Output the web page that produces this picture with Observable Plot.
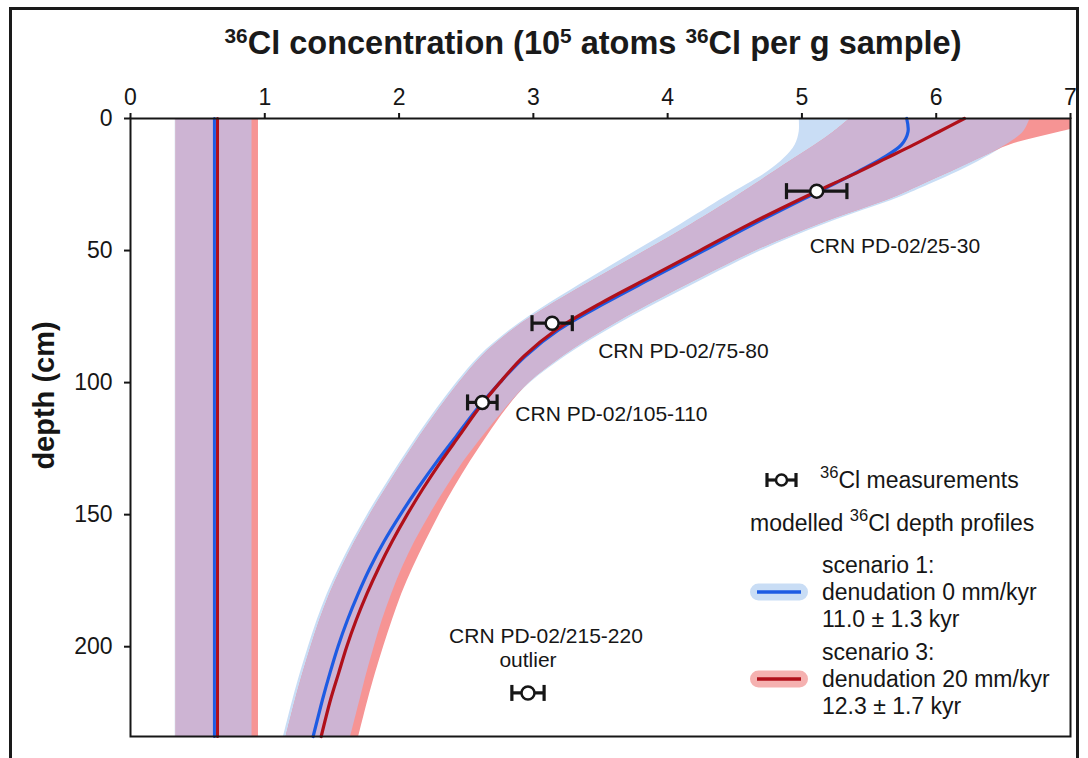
<!DOCTYPE html>
<html><head><meta charset="utf-8">
<script src="https://cdn.jsdelivr.net/npm/d3@7"></script>
<script src="https://cdn.jsdelivr.net/npm/@observablehq/plot@0.6"></script>
<style>
html,body{margin:0;padding:0;background:#fff;}
body{width:1088px;height:758px;overflow:hidden;position:relative;font-family:"Liberation Sans",Arial,sans-serif;color:#1a1a1a;}
#frame{position:absolute;left:9px;top:7px;width:1070px;height:800px;border:3px solid #1a1a1a;box-sizing:border-box;}
#chart{position:absolute;left:0;top:0;}
#title{position:absolute;left:0;width:1186px;top:26px;text-align:center;font-weight:bold;font-size:32.5px;white-space:nowrap;line-height:1.1;}
#title sup{font-size:0.64em;vertical-align:0.55em;line-height:0;}
#legend{position:absolute;left:0;top:0;}
</style></head><body>
<div id="frame"></div>
<div id="chart"></div>
<div id="title"><sup>36</sup>Cl concentration (10<sup>5</sup> atoms <sup>36</sup>Cl per g sample)</div>
<svg id="legend" width="1088" height="758"></svg>
<script>
// ---- modelled depth profiles (depth in cm, concentration in 10^5 atoms/g) ----
const depth = [0,5,10,15,20,25,30,40,50,60,70,80,90,100,110,120,130,140,150,160,170,180,190,200,210,220,234];
// scenario 1: denudation 0 mm/kyr
const s1   = [5.78,5.79,5.74,5.60,5.42,5.23,5.03,4.64,4.27,3.90,3.53,3.19,2.94,2.75,2.58,2.43,2.28,2.14,2.01,1.89,1.785,1.695,1.615,1.545,1.485,1.43,1.36];
const s1lo = [4.98,4.98,4.95,4.87,4.75,4.59,4.42,4.10,3.77,3.44,3.12,2.83,2.60,2.43,2.28,2.14,2.01,1.885,1.765,1.655,1.555,1.465,1.39,1.325,1.265,1.21,1.14];
const s1hi = [6.70,6.65,6.52,6.36,6.17,5.95,5.72,5.17,4.70,4.30,3.92,3.56,3.24,2.98,2.79,2.63,2.48,2.35,2.23,2.12,2.025,1.945,1.875,1.815,1.76,1.71,1.64];
// scenario 3: denudation 20 mm/kyr
const s3   = [6.21,6.02,5.83,5.63,5.43,5.22,5.01,4.61,4.24,3.87,3.50,3.17,2.93,2.75,2.59,2.45,2.31,2.18,2.06,1.95,1.85,1.76,1.68,1.61,1.55,1.49,1.42];
const s3lo = [5.36,5.24,5.10,4.95,4.80,4.65,4.50,4.18,3.84,3.49,3.15,2.85,2.62,2.45,2.30,2.16,2.03,1.905,1.785,1.675,1.575,1.485,1.41,1.345,1.285,1.23,1.16];
const s3hi = [7.35,6.93,6.55,6.33,6.12,5.90,5.68,5.13,4.66,4.26,3.88,3.53,3.22,2.97,2.80,2.66,2.53,2.41,2.30,2.20,2.105,2.02,1.95,1.885,1.825,1.77,1.70];
// inherited component (vertical bands)
const inhDepth = [0, 234];
const inh1 = 0.625, inh1lo = 0.333, inh1hi = 0.905;
const inh3 = 0.648, inh3lo = 0.340, inh3hi = 0.953;
// 36Cl measurements
const sampleIds   = ["CRN PD-02/25-30","CRN PD-02/75-80","CRN PD-02/105-110","CRN PD-02/215-220"];
const sampleDepth = [27.5, 77.5, 107.5, 217.5];
const sampleConc  = [5.11, 3.14, 2.62, 2.96];
const sampleErr   = [0.225, 0.15, 0.11, 0.12];
const xTicks = [0,1,2,3,4,5,6,7];
const yTicks = [0,50,100,150,200];

const LB = "#c9ddf5", PK = "#f69494", PU = "#cdb4d3", BL = "#1d5be3", RD = "#b0101a", INK = "#161616";

const prof = depth.map((d,i)=>({depth:d, s1:s1[i], s1lo:s1lo[i], s1hi:s1hi[i], s3:s3[i], s3lo:s3lo[i], s3hi:s3hi[i],
  ov1:Math.max(s1lo[i],s3lo[i]), ov2:Math.min(s1hi[i],s3hi[i])}));
const inh = inhDepth.map(d=>({depth:d, b1:inh1, b1lo:inh1lo, b1hi:inh1hi, b3:inh3, b3lo:inh3lo, b3hi:inh3hi,
  ov1:Math.max(inh1lo,inh3lo), ov2:Math.min(inh1hi,inh3hi)}));
const samples = sampleIds.map((id,i)=>({id, depth:sampleDepth[i], conc:sampleConc[i], lo:sampleConc[i]-sampleErr[i], hi:sampleConc[i]+sampleErr[i]}));

const cap = {draw(ctx,size){const h=Math.sqrt(size/Math.PI); ctx.moveTo(0,-h); ctx.lineTo(0,h);}};
const C = "catmull-rom";

const chart = Plot.plot({
  width:1088, height:758, marginLeft:130, marginRight:18, marginTop:118, marginBottom:22,
  x:{domain:[0,7]}, y:{domain:[0,234], reverse:true},
  style:{fontFamily:"'Liberation Sans', Arial, sans-serif", fontSize:"23px", color:INK, background:"transparent", overflow:"visible"},
  marks:[
    Plot.areaX(inh,{y:"depth", x1:"b1lo", x2:"b1hi", fill:LB}),
    Plot.areaX(inh,{y:"depth", x1:"b3lo", x2:"b3hi", fill:PK}),
    Plot.areaX(inh,{y:"depth", x1:"ov1", x2:"ov2", fill:PU}),
    Plot.areaX(prof,{y:"depth", x1:"s1lo", x2:"s1hi", fill:LB, curve:C, clip:true}),
    Plot.areaX(prof,{y:"depth", x1:"s3lo", x2:"s3hi", fill:PK, curve:C, clip:true}),
    Plot.areaX(prof,{y:"depth", x1:"ov1", x2:"ov2", fill:PU, curve:C, clip:true}),
    Plot.lineX(inh,{x:"b1", y:"depth", stroke:BL, strokeWidth:3}),
    Plot.lineX(inh,{x:"b3", y:"depth", stroke:RD, strokeWidth:3}),
    Plot.lineX(prof,{x:"s1", y:"depth", stroke:BL, strokeWidth:3.2, curve:C}),
    Plot.lineX(prof,{x:"s3", y:"depth", stroke:RD, strokeWidth:3.2, curve:C}),
    Plot.link(samples,{x1:"lo", x2:"hi", y1:"depth", y2:"depth", stroke:INK, strokeWidth:3.2}),
    Plot.dot(samples,{x:"lo", y:"depth", symbol:cap, r:8, fill:"none", stroke:INK, strokeWidth:3.2}),
    Plot.dot(samples,{x:"hi", y:"depth", symbol:cap, r:8, fill:"none", stroke:INK, strokeWidth:3.2}),
    Plot.dot(samples,{x:"conc", y:"depth", r:6.5, fill:"white", stroke:INK, strokeWidth:2.5}),
    Plot.text([samples[0]],{x:"conc", y:"depth", text:"id", dx:-7, dy:55, textAnchor:"start", fontSize:21, fill:INK}),
    Plot.text([samples[1]],{x:"conc", y:"depth", text:"id", dx:46, dy:28, textAnchor:"start", fontSize:21, fill:INK}),
    Plot.text([samples[2]],{x:"conc", y:"depth", text:"id", dx:33, dy:12, textAnchor:"start", fontSize:21, fill:INK}),
    Plot.text([samples[3]],{x:"conc", y:"depth", text:"id", dx:18, dy:-57, textAnchor:"middle", fontSize:21, fill:INK}),
    Plot.text([samples[3]],{x:"conc", y:"depth", text:()=>"outlier", dx:0, dy:-33, textAnchor:"middle", fontSize:21, fill:INK}),
    Plot.frame({stroke:INK, strokeWidth:2}),
    Plot.axisX({anchor:"top", ticks:xTicks, tickFormat:"d", tickSize:6, tickPadding:8, fontSize:23, label:null, strokeWidth:2}),
    Plot.axisY({ticks:yTicks, tickFormat:"d", tickSize:6, tickPadding:12, fontSize:23, label:null, strokeWidth:2}),
    Plot.text(["depth (cm)"],{frameAnchor:"left", text:d=>d, textAnchor:"middle", rotate:-90, dx:-86, dy:-32, fontSize:29, fontWeight:"bold", fill:INK})
  ]
});
document.getElementById("chart").appendChild(chart);

// ---- legend ----
const lg = d3.select("#legend").attr("font-family","'Liberation Sans', Arial, sans-serif").attr("fill",INK);
const ly = 480, FS = 23;
lg.append("line").attr("x1",767).attr("x2",796).attr("y1",ly).attr("y2",ly).attr("stroke",INK).attr("stroke-width",3.2);
[767,796].forEach(x=>lg.append("line").attr("x1",x).attr("x2",x).attr("y1",ly-7).attr("y2",ly+7).attr("stroke",INK).attr("stroke-width",3.2));
lg.append("circle").attr("cx",781.5).attr("cy",ly).attr("r",5.5).attr("fill","white").attr("stroke",INK).attr("stroke-width",2.5);
function supText(x,y,parts,size){
  const t = lg.append("text").attr("x",x).attr("y",y).attr("font-size",size).attr("dominant-baseline","central");
  parts.forEach(p=>{
    if (p.sup) t.append("tspan").attr("font-size",size*0.72).attr("dy",-size*0.36).text(p.sup);
    else t.append("tspan").attr("dy",p.after?size*0.36:0).text(p.t);
  });
  return t;
}
supText(820, ly, [{sup:"36"},{t:"Cl measurements", after:true}], FS);
supText(750, 523, [{t:"modelled "},{sup:"36"},{t:"Cl depth profiles", after:true}], FS);
function pill(y, fillC, lineC){
  lg.append("rect").attr("x",750).attr("y",y-8.5).attr("width",58).attr("height",17).attr("rx",8.5).attr("fill",fillC);
  lg.append("line").attr("x1",757).attr("x2",801).attr("y1",y).attr("y2",y).attr("stroke",lineC).attr("stroke-width",3.5);
}
pill(592, LB, BL);
pill(679, "#f5b1b0", RD);
[["scenario 1:",565],["denudation 0 mm/kyr",592],["11.0 ± 1.3 kyr",619],
 ["scenario 3:",652],["denudation 20 mm/kyr",679],["12.3 ± 1.7 kyr",706]].forEach(([s,y])=>
  lg.append("text").attr("x",822).attr("y",y).attr("font-size",FS).attr("dominant-baseline","central").text(s));
</script>
</body></html>
